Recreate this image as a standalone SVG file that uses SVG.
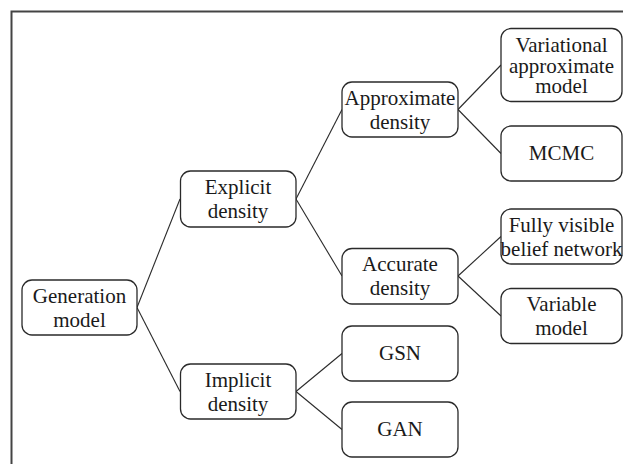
<svg xmlns="http://www.w3.org/2000/svg" width="623" height="464" viewBox="0 0 623 464">
<style>
.box{fill:#fff;stroke:#2a2a2a;stroke-width:1.3}
.t{font-family:"Liberation Serif","Times New Roman",serif;font-size:21px;fill:#1a1a1a;text-anchor:middle}
.c{stroke:#2a2a2a;stroke-width:1.1;fill:none}
</style>
<rect x="0" y="0" width="623" height="464" fill="#fff"/>
<path d="M11.5,464 V11.5 H623" fill="none" stroke="#444" stroke-width="2"/>
<g id="connectors">
<line class="c" x1="137" y1="307.5" x2="180" y2="199"/>
<line class="c" x1="137" y1="307.5" x2="180" y2="391.5"/>
<line class="c" x1="296" y1="199" x2="342" y2="109.5"/>
<line class="c" x1="296" y1="199" x2="342" y2="276"/>
<line class="c" x1="458" y1="109.5" x2="501" y2="65"/>
<line class="c" x1="458" y1="109.5" x2="501" y2="153.5"/>
<line class="c" x1="458" y1="276" x2="501" y2="236.5"/>
<line class="c" x1="458" y1="276" x2="501" y2="316"/>
<line class="c" x1="296" y1="391.5" x2="342" y2="353.5"/>
<line class="c" x1="296" y1="391.5" x2="342" y2="429.5"/>
</g>
<g id="generation-model">
<rect class="box" x="22" y="280" width="115" height="55" rx="10"/>
<text class="t" x="79.5" y="302.5">Generation</text>
<text class="t" x="79.5" y="326.5">model</text>
</g>
<g id="explicit-density">
<rect class="box" x="180.5" y="171" width="115.5" height="56" rx="10"/>
<text class="t" x="238" y="194">Explicit</text>
<text class="t" x="238" y="218">density</text>
</g>
<g id="implicit-density">
<rect class="box" x="180.5" y="364" width="115.5" height="55" rx="10"/>
<text class="t" x="238" y="386.5">Implicit</text>
<text class="t" x="238" y="410.5">density</text>
</g>
<g id="approximate-density">
<rect class="box" x="342" y="82" width="116" height="55" rx="10"/>
<text class="t" x="400" y="104.5">Approximate</text>
<text class="t" x="400" y="128.5">density</text>
</g>
<g id="accurate-density">
<rect class="box" x="342" y="248.5" width="116" height="55.5" rx="10"/>
<text class="t" x="400" y="271">Accurate</text>
<text class="t" x="400" y="295">density</text>
</g>
<g id="gsn">
<rect class="box" x="342" y="326" width="116" height="55" rx="10"/>
<text class="t" x="400" y="360">GSN</text>
</g>
<g id="gan">
<rect class="box" x="342" y="402" width="116" height="55" rx="10"/>
<text class="t" x="400" y="436">GAN</text>
</g>
<g id="variational-approximate-model">
<rect class="box" x="501" y="28.5" width="121" height="73" rx="10"/>
<text class="t" x="561.5" y="51.5">Variational</text>
<text class="t" x="561.5" y="72.5">approximate</text>
<text class="t" x="561.5" y="92.5">model</text>
</g>
<g id="mcmc">
<rect class="box" x="501" y="126" width="121" height="55" rx="10"/>
<text class="t" x="561.5" y="160">MCMC</text>
</g>
<g id="fully-visible-belief-network">
<rect class="box" x="501" y="209" width="121" height="55" rx="10"/>
<text class="t" x="561.5" y="231.5">Fully visible</text>
<text class="t" x="561.5" y="255.5">belief network</text>
</g>
<g id="variable-model">
<rect class="box" x="501" y="288.5" width="121" height="55" rx="10"/>
<text class="t" x="561.5" y="311">Variable</text>
<text class="t" x="561.5" y="335">model</text>
</g>
</svg>
